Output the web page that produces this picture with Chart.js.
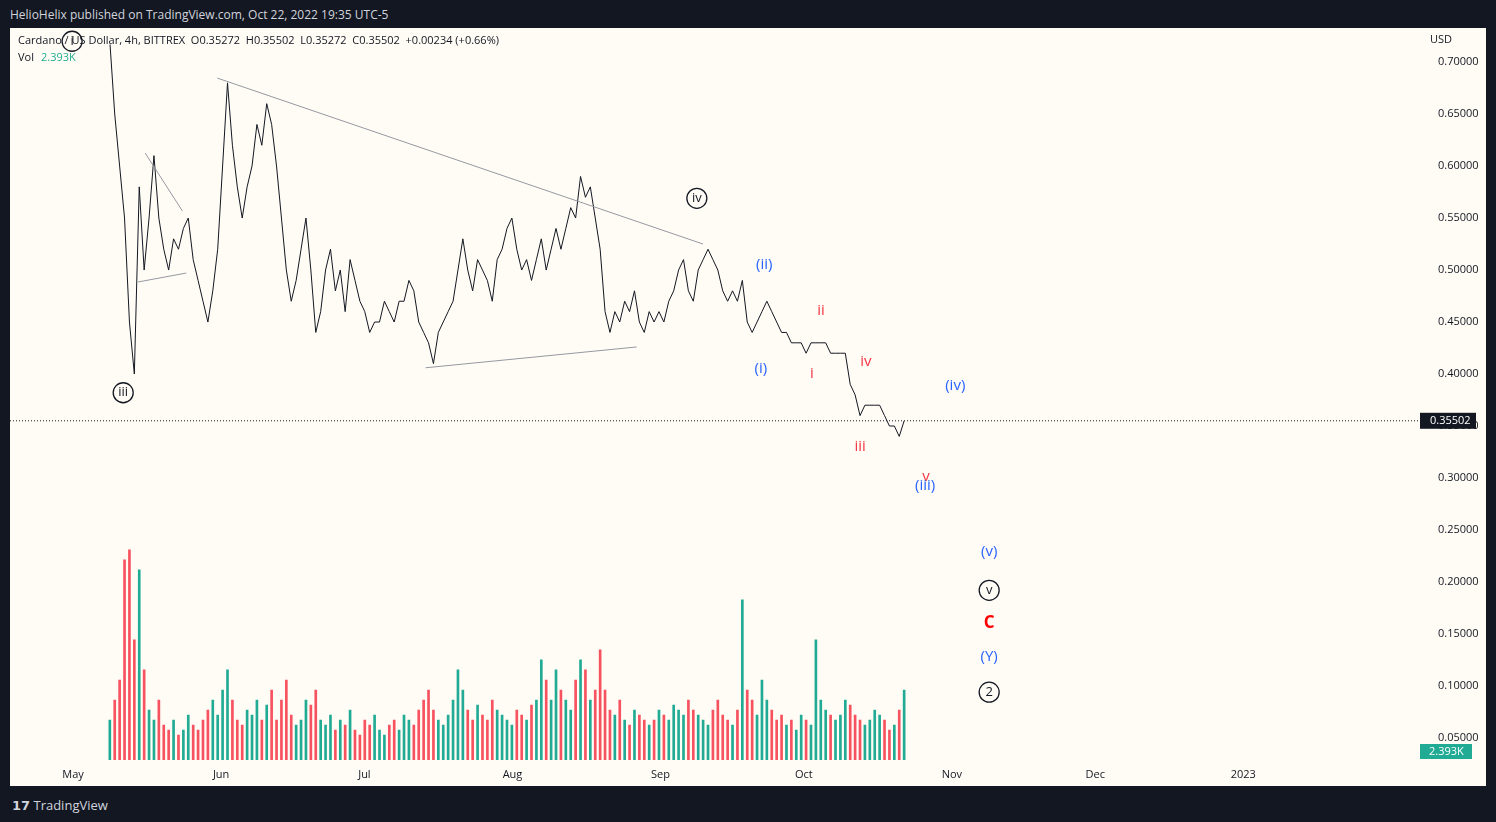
<!DOCTYPE html>
<html lang="en">
  <head>
    <meta charset="UTF-8" />
    <title>Cardano / US Dollar</title>
    <script src="https://cdn.jsdelivr.net/npm/chart.js@4.4.0/dist/chart.umd.min.js"></script>
    <style>
      body { margin:0; background:#131722; width:1496px; height:822px; overflow:hidden; font-family:"Open Sans", sans-serif; }
      #top { position:absolute; left:10px; top:6px; color:#d1d4dc; font-size:12px; }
      #bottom { position:absolute; left:12px; top:796px; color:#d1d4dc; font-size:13px; }
      #box { position:absolute; left:10px; top:28px; width:1476px; height:758px; background:#fffcf5; }
    </style>
  </head>
  <body>
    <div id="top">HelioHelix published on TradingView.com, Oct 22, 2022 19:35 UTC-5</div>
    <div id="box"><canvas id="chart" width="1476" height="758"></canvas></div>
    <div id="bottom"><b style="font-family:'DejaVu Sans'">17</b> TradingView</div>

    <script>
      // daily closes (approx.), first ~May 8, last Oct 22 2022
      const firstDay = 7.7, lastDay = 174;
      const prices = [0.72,0.65,0.60,0.55,0.45,0.40,0.58,0.50,0.55,0.61,
        0.55,0.52,0.50,0.53,0.52,0.54,0.55,0.51,0.49,0.47,
        0.45,0.48,0.52,0.60,0.68,0.62,0.58,0.55,0.58,0.60,
        0.64,0.62,0.66,0.64,0.60,0.55,0.50,0.47,0.49,0.52,
        0.55,0.50,0.44,0.46,0.50,0.52,0.48,0.50,0.46,0.51,
        0.49,0.47,0.46,0.44,0.45,0.45,0.47,0.46,0.45,0.47,
        0.47,0.49,0.48,0.45,0.44,0.43,0.41,0.44,0.45,0.46,
        0.47,0.50,0.53,0.50,0.48,0.51,0.50,0.49,0.47,0.51,
        0.52,0.54,0.55,0.52,0.50,0.51,0.49,0.51,0.53,0.50,
        0.52,0.54,0.52,0.54,0.56,0.55,0.59,0.57,0.58,0.55,
        0.52,0.46,0.44,0.46,0.45,0.47,0.46,0.48,0.45,0.44,
        0.46,0.45,0.46,0.45,0.47,0.48,0.50,0.51,0.48,0.47,
        0.50,0.51,0.52,0.51,0.50,0.48,0.47,0.48,0.47,0.49,
        0.45,0.44,0.45,0.46,0.47,0.46,0.45,0.44,0.44,0.43,
        0.43,0.43,0.42,0.43,0.43,0.43,0.43,0.42,0.42,0.42,
        0.42,0.39,0.38,0.36,0.37,0.37,0.37,0.37,0.36,0.35,
        0.35,0.34,0.355];
      const volumes = [40,60,80,200,210,120,190,90,50,40,
        60,35,30,40,25,30,45,35,30,40,
        50,60,45,70,90,60,40,35,50,45,
        60,40,55,70,40,60,80,45,35,40,
        60,55,70,40,35,45,30,40,35,50,
        30,25,40,35,45,30,25,35,40,30,
        45,40,35,50,60,70,50,40,35,45,
        60,90,70,50,40,55,45,40,60,50,
        45,40,35,50,45,40,55,60,100,80,
        60,90,70,60,50,80,100,90,60,70,
        110,70,50,45,60,40,35,50,45,40,
        35,40,50,45,40,55,50,45,60,50,
        45,40,35,50,60,45,40,35,50,160,
        70,60,45,80,60,50,40,45,35,40,
        30,45,40,35,120,60,50,45,40,45,
        60,55,45,40,35,40,50,45,40,30,
        35,50,70];
      const monthDays = [0,31,61,92,123,153,184,214,245];
      const monthLabels = ['May','Jun','Jul','Aug','Sep','Oct','Nov','Dec','2023'];
      const priceTicks = [0.05,0.10,0.15,0.20,0.25,0.30,0.35,0.40,0.45,0.50,0.55,0.60,0.65,0.70];
      const lastPrice = 0.35502;
      // wave labels: text, day, price, colour, circled
      const waves = [
        ['i',-0.2,0.720,'#131722',true],['iii',10.5,0.382,'#131722',true],['iv',130.6,0.569,'#131722',true],
        ['(ii)',144.7,0.505,'#2962ff',false],['(i)',144.0,0.405,'#2962ff',false],
        ['ii',156.6,0.461,'#f23645',false],['i',154.7,0.400,'#f23645',false],
        ['iv',166.0,0.412,'#f23645',false],['iii',164.8,0.330,'#f23645',false],
        ['v',178.6,0.301,'#f23645',false],['(iii)',178.4,0.293,'#2962ff',false],
        ['(iv)',184.7,0.389,'#2962ff',false],['(v)',191.8,0.229,'#2962ff',false],
        ['v',191.8,0.192,'#131722',true],['C',191.8,0.160,'#ff0000',false],
        ['(Y)',191.8,0.128,'#2962ff',false],['2',191.8,0.094,'#131722',true]];
      // gray trend lines [day1, price1, day2, price2]
      const trendLines = [[30.2,0.6846,131.9,0.525],[73.8,0.406,118,0.426],
        [15.1,0.6125,22.9,0.5567],[13.6,0.4885,23.7,0.4971]];

      const step = (lastDay - firstDay) / (prices.length - 1);
      const pricePts = prices.map((p, i) => ({x: firstDay + i * step, y: p}));
      const volPts = volumes.map((v, i) => ({x: firstDay + i * step, y: v}));
      const volColors = prices.map((p, i) => (i > 0 && p < prices[i-1]) ? '#f7525f' : '#22ab94');

      const overlay = {
        id: 'overlay',
        afterDatasetsDraw(chart) {
          const c = chart.ctx, x = chart.scales.x, y = chart.scales.y, a = chart.chartArea;
          c.save();
          c.strokeStyle = '#9598a1'; c.lineWidth = 1;
          trendLines.forEach(t => {
            c.beginPath();
            c.moveTo(x.getPixelForValue(t[0]), y.getPixelForValue(t[1]));
            c.lineTo(x.getPixelForValue(t[2]), y.getPixelForValue(t[3]));
            c.stroke();
          });
          c.setLineDash([1,2]); c.strokeStyle = '#131722';
          const py = y.getPixelForValue(lastPrice);
          c.beginPath(); c.moveTo(0, py); c.lineTo(a.right, py); c.stroke();
          c.setLineDash([]);
          c.textAlign = 'left'; c.textBaseline = 'middle';
          c.font = '11px "Open Sans"'; c.fillStyle = '#131722';
          c.fillText('Cardano / US Dollar, 4h, BITTREX  O0.35272  H0.35502  L0.35272  C0.35502  +0.00234 (+0.66%)', 8, 13);
          c.fillText('Vol', 8, 30);
          c.fillStyle = '#22ab94'; c.fillText('2.393K', 31, 30);
          c.textAlign = 'center';
          waves.forEach(w => {
            const wx = x.getPixelForValue(w[1]), wy = y.getPixelForValue(w[2]);
            c.fillStyle = w[3];
            c.font = (w[0] === 'C' ? 'bold 17px' : '15px') + ' "Open Sans"';
            if (w[4]) {
              c.beginPath(); c.arc(wx, wy, 10, 0, Math.PI * 2);
              c.strokeStyle = w[3]; c.lineWidth = 1.3; c.stroke();
              c.font = '13px "Open Sans"';
            }
            c.fillText(w[0], wx, wy);
          });
          c.restore();
        },
        afterDraw(chart) {
          const c = chart.ctx, y = chart.scales.y, a = chart.chartArea;
          c.save();
          c.font = '11px "Open Sans"'; c.textBaseline = 'middle';
          c.fillStyle = '#131722'; c.fillText('USD', 1420, 12);
          const py = y.getPixelForValue(lastPrice);
          c.fillRect(a.right, py - 8, 56, 16);
          c.fillStyle = '#fff'; c.fillText(lastPrice.toFixed(5), a.right + 10, py);
          c.fillStyle = '#22ab94'; c.fillRect(a.right, 716, 52, 15);
          c.fillStyle = '#fff'; c.fillText('2.393K', a.right + 9, 724);
          c.restore();
        }
      };

      new Chart(document.getElementById('chart'), {
        data: {
          datasets: [
            {type: 'line', data: pricePts, yAxisID: 'y', borderColor: '#131722', borderWidth: 1, pointRadius: 0, tension: 0, order: 1},
            {type: 'bar', data: volPts, yAxisID: 'v', backgroundColor: volColors, barThickness: 2, order: 2}
          ]
        },
        options: {
          responsive: false, animation: false,
          plugins: {legend: {display: false}, tooltip: {enabled: false}},
          scales: {
            x: {type: 'linear', min: -13.2, max: 282, offset: false,
              grid: {display: false}, border: {display: false},
              afterBuildTicks: s => { s.ticks = monthDays.map(v => ({value: v})); },
              afterFit: s => { s.height = 26; },
              ticks: {maxRotation: 0, autoSkip: false, padding: 0, color: '#131722', font: {size: 11, family: 'Open Sans'},
                callback: (v) => monthLabels[monthDays.indexOf(v)]}},
            y: {position: 'right', min: 0.0288, max: 0.7168,
              grid: {display: false}, border: {display: false},
              afterBuildTicks: s => { s.ticks = priceTicks.map(v => ({value: v})); },
              afterFit: s => { s.width = 66; },
              ticks: {padding: 10, color: '#131722', font: {size: 11, family: 'Open Sans'}, callback: v => v.toFixed(5)}},
            v: {display: false, min: 0, max: 715}
          }
        },
        plugins: [overlay]
      });
    </script>
  </body>
</html>
